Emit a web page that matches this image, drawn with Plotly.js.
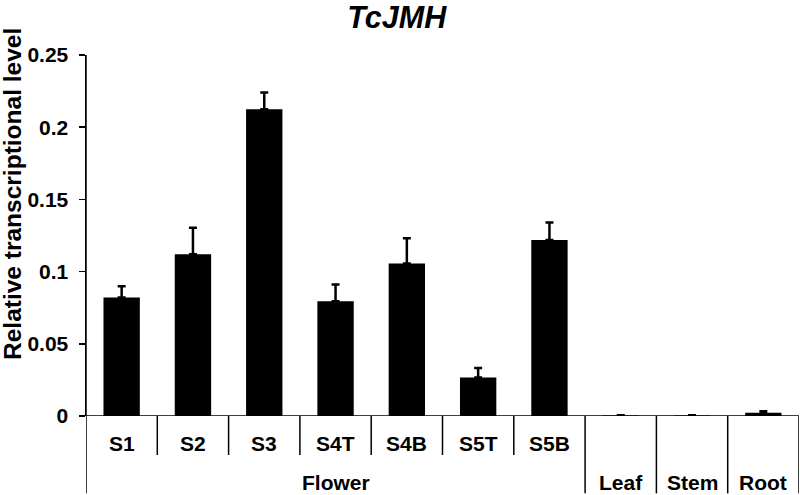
<!DOCTYPE html>
<html>
<head>
<meta charset="utf-8">
<script src="https://cdn.plot.ly/plotly-3.0.1.min.js"></script>
<style>html,body{margin:0;padding:0;background:#fff;}#chart{width:800px;height:495px;}</style>
</head>
<body>
<div id="chart"></div>
<script>
const categories = ['S1','S2','S3','S4T','S4B','S5T','S5B','Leaf','Stem','Root'];
const innerLabels = ['S1','S2','S3','S4T','S4B','S5T','S5B','','',''];
const groupOf = ['Flower','Flower','Flower','Flower','Flower','Flower','Flower','Leaf','Stem','Root'];
const values = [0.0821, 0.1121, 0.2125, 0.0795, 0.1056, 0.0266, 0.1218, 0.0004, 0.0003, 0.0023];
const errors = [0.0078, 0.0182, 0.0116, 0.0116, 0.0175, 0.0067, 0.0122, 0.0002, 0.0002, 0.0010];
const yTicks = [0, 0.05, 0.1, 0.15, 0.2, 0.25];
const chartTitle = 'TcJMH';
const yTitle = 'Relative transcriptional level';

const FONT = 'Liberation Sans, Arial, sans-serif';
const lineW = 1.5;

const trace = {
  type: 'bar',
  x: categories,
  y: values,
  width: 0.51,
  marker: {color: '#000000', line: {width: 0}},
  error_y: {
    type: 'data', symmetric: false,
    array: errors, arrayminus: errors.map(() => 0),
    color: '#000000', thickness: 2.5, width: 4
  },
  hoverinfo: 'x+y'
};

const shapes = [];
const annotations = [];
const n = categories.length;
shapes.push({type:'line', xref:'x', yref:'paper', x0:-0.5, x1:-0.5, y0:1, y1:-0.2143, line:{color:'#000', width:lineW}});
shapes.push({type:'line', xref:'x', yref:'y', x0:-0.5, x1:n-0.5, y0:0, y1:0, line:{color:'#000', width:lineW}});
for (let i = 0; i < n; i++) {
  const boundary = i + 0.5;
  const sameGroup = i < n - 1 && groupOf[i] === groupOf[i + 1];
  shapes.push({type:'line', xref:'x', yref:'paper', x0:boundary, x1:boundary, y0:0,
    y1: sameGroup ? -0.108 : -0.2143, line:{color:'#000', width:lineW}});
  if (innerLabels[i]) {
    annotations.push({xref:'x', yref:'paper', x:categories[i], y:0, yshift:-27, yanchor:'middle',
      text: innerLabels[i], showarrow:false, font:{family:FONT, size:21, color:'#000', weight:'bold'}});
  }
}
const groupNames = [];
groupOf.forEach(g => { if (!groupNames.includes(g)) groupNames.push(g); });
groupNames.forEach(g => {
  const idx = groupOf.map((v, i) => v === g ? i : -1).filter(i => i >= 0);
  const center = (idx[0] + idx[idx.length - 1]) / 2;
  annotations.push({xref:'x', yref:'paper', x:center, y:0, yshift:-66, yanchor:'middle',
    text: g, showarrow:false, font:{family:FONT, size:21, color:'#000', weight:'bold'}});
});
annotations.push({xref:'paper', yref:'paper', x:-0.1024, y:0.615, xanchor:'center', yanchor:'middle',
  textangle:-90, text: yTitle, showarrow:false, font:{family:FONT, size:24.5, color:'#000', weight:'bold'}});

const layout = {
  width: 800, height: 495,
  margin: {l: 86, r: 1, t: 55, b: 79.3, pad: 0},
  paper_bgcolor: '#ffffff', plot_bgcolor: '#ffffff',
  showlegend: false,
  title: {text: chartTitle, x: 0.496, xref: 'container', xanchor: 'center', y: 0.965, yref: 'container', yanchor: 'middle',
    font: {family: FONT, size: 30.5, color: '#000', weight: 'bold', style: 'italic'}},
  xaxis: {type: 'category', range: [-0.5, n - 0.5], showticklabels: false, ticks: '', showgrid: false,
    zeroline: false, showline: false, fixedrange: true},
  yaxis: {range: [0, 0.25], tickvals: yTicks, ticktext: yTicks.map(v => String(v)), ticks: 'outside', ticklen: 6,
    tickwidth: lineW, tickcolor: '#000', showgrid: false, zeroline: false, showline: true, linecolor: '#000',
    linewidth: lineW, ticklabelstandoff: 6,
    tickfont: {family: FONT, size: 21, color: '#000', weight: 'bold'}},
  shapes: shapes,
  annotations: annotations
};

Plotly.newPlot('chart', [trace], layout, {displayModeBar: false, staticPlot: true});
</script>
</body>
</html>
